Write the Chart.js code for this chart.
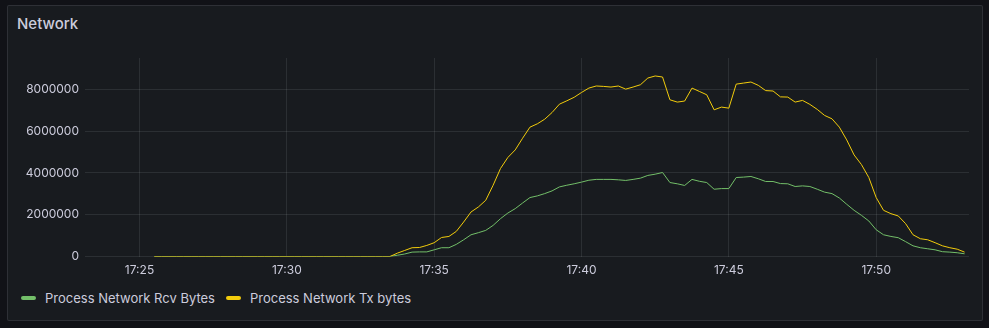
<!DOCTYPE html>
<html>
<head>
<meta charset="utf-8">
<title>Network</title>
<script src="https://cdn.jsdelivr.net/npm/chart.js@4.4.1/dist/chart.umd.min.js"></script>
<style>
  html, body { margin: 0; padding: 0; }
  body {
    width: 989px; height: 328px; overflow: hidden;
    background: #111217;
    font-family: Inter, "Noto Sans", sans-serif;
    color: #ccccdc;
    position: relative;
  }
  .panel {
    position: absolute; left: 7px; top: 5px;
    width: 974px; height: 314px;
    background: #181b1f;
    border: 1px solid rgba(204,204,220,0.12);
    border-radius: 2px;
  }
  .title {
    position: absolute; left: 17px; top: 14px;
    font-size: 15px; font-weight: 500; line-height: 20px;
  }
  #chart { position: absolute; left: 0; top: 0; }
  .legend {
    position: absolute; left: 21px; top: 290px;
    display: flex; align-items: center;
    font-size: 13px; line-height: 16px;
  }
  .legend-item { display: flex; align-items: center; margin-right: 11px; }
  .legend-swatch { width: 15px; height: 4px; border-radius: 2px; margin-right: 9px; }
</style>
</head>
<body>
<div class="panel"></div>
<div class="title">Network</div>
<canvas id="chart" width="989" height="290"></canvas>
<div class="legend" id="legend"></div>

<script>
/* ---- Datos ---- */
// tiempo en minutos desde las 17:00, un punto cada 15 s
const startMinute = 25.5;
const stepMinute  = 0.25;

const seriesLabels = ['Process Network Rcv Bytes', 'Process Network Tx bytes'];
const seriesColors = ['#73BF69', '#F2CC0C'];

const rcvBytes = [
  0, 0, 0, 0, 0, 0, 0, 0, 0, 0, 0, 0, 0, 0, 0, 0,
  0, 0, 0, 0, 0, 0, 0, 0, 0, 0, 0, 0, 0, 0, 0, 0,
  0, 60000, 120000, 210000, 220000, 220000, 320000, 420000, 420000, 580000,
  800000, 1040000, 1140000, 1250000, 1490000, 1810000, 2080000, 2290000, 2560000, 2820000,
  2900000, 3010000, 3140000, 3330000, 3410000, 3480000, 3560000, 3650000, 3690000, 3690000,
  3690000, 3670000, 3640000, 3690000, 3750000, 3880000, 3940000, 4020000, 3540000, 3480000,
  3400000, 3690000, 3600000, 3540000, 3220000, 3250000, 3250000, 3780000, 3800000, 3830000,
  3720000, 3590000, 3590000, 3490000, 3480000, 3350000, 3380000, 3350000, 3220000, 3080000,
  3010000, 2800000, 2500000, 2210000, 1970000, 1700000, 1280000, 1040000, 960000, 900000,
  710000, 510000, 420000, 370000, 320000, 230000, 210000, 180000, 130000,
];

const txBytes = [
  0, 0, 0, 0, 0, 0, 0, 0, 0, 0, 0, 0, 0, 0, 0, 0,
  0, 0, 0, 0, 0, 0, 0, 0, 0, 0, 0, 0, 0, 0, 0, 0,
  0, 160000, 290000, 420000, 430000, 530000, 660000, 910000, 960000, 1200000,
  1650000, 2130000, 2370000, 2690000, 3410000, 4210000, 4740000, 5100000, 5660000, 6190000,
  6350000, 6570000, 6890000, 7290000, 7450000, 7620000, 7850000, 8060000, 8160000, 8140000,
  8110000, 8160000, 8010000, 8110000, 8220000, 8540000, 8640000, 8590000, 7500000, 7390000,
  7440000, 8060000, 7900000, 7740000, 7020000, 7150000, 7100000, 8250000, 8300000, 8350000,
  8190000, 7940000, 7920000, 7640000, 7630000, 7390000, 7470000, 7280000, 7040000, 6750000,
  6590000, 6190000, 5580000, 4860000, 4400000, 3780000, 2820000, 2210000, 2050000, 1940000,
  1570000, 1040000, 850000, 800000, 660000, 510000, 420000, 350000, 210000,
];

const xTicks = [25, 30, 35, 40, 45, 50];
const yTicks = [0, 2000000, 4000000, 6000000, 8000000];

/* ---- Helpers ---- */
const times = rcvBytes.map((_, i) => startMinute + i * stepMinute);
const toPoints = values => values.map((v, i) => ({ x: times[i], y: v }));
const fmtTime = m => `17:${String(Math.round(m)).padStart(2, '0')}`;

const textColor = '#ccccdc';
const gridColor = 'rgba(240,250,255,0.09)';

/* ---- Gráfica ---- */
const ctx = document.getElementById('chart').getContext('2d');

new Chart(ctx, {
  type: 'line',
  data: {
    datasets: [
      {
        label: seriesLabels[1],
        data: toPoints(txBytes),
        borderColor: seriesColors[1],
        borderWidth: 1,
        pointRadius: 0,
        tension: 0,
        fill: false,
      },
      {
        label: seriesLabels[0],
        data: toPoints(rcvBytes),
        borderColor: seriesColors[0],
        borderWidth: 1,
        pointRadius: 0,
        tension: 0,
        fill: false,
      },
    ],
  },
  options: {
    responsive: false,
    animation: false,
    layout: { padding: { top: 58, right: 20, left: 0, bottom: 0 } },
    plugins: {
      legend: { display: false },
      tooltip: { enabled: false },
    },
    scales: {
      x: {
        type: 'linear',
        min: 23.15,
        max: 53.15,
        afterBuildTicks: s => { s.ticks = xTicks.map(v => ({ value: v })); },
        afterFit: s => { s.height = 33.5; },
        border: { display: false },
        grid: { color: gridColor, drawTicks: false },
        ticks: {
          color: textColor,
          font: { family: 'Inter', size: 12 },
          padding: 7,
          maxRotation: 0,
          callback: v => fmtTime(v),
        },
      },
      y: {
        min: 0,
        max: 9500000,
        afterBuildTicks: s => { s.ticks = yTicks.map(v => ({ value: v })); },
        afterFit: s => { s.width = 85; },
        border: { display: false },
        grid: { color: gridColor, drawTicks: false },
        ticks: {
          color: textColor,
          font: { family: 'Inter', size: 12 },
          padding: 6,
          callback: v => String(v),
        },
      },
    },
  },
});

// Leyenda personalizada
document.getElementById('legend').innerHTML = seriesLabels.map((l, i) => `
  <div class="legend-item">
    <span class="legend-swatch" style="background:${seriesColors[i]}"></span>
    <span>${l}</span>
  </div>
`).join('');
</script>
</body>
</html>
